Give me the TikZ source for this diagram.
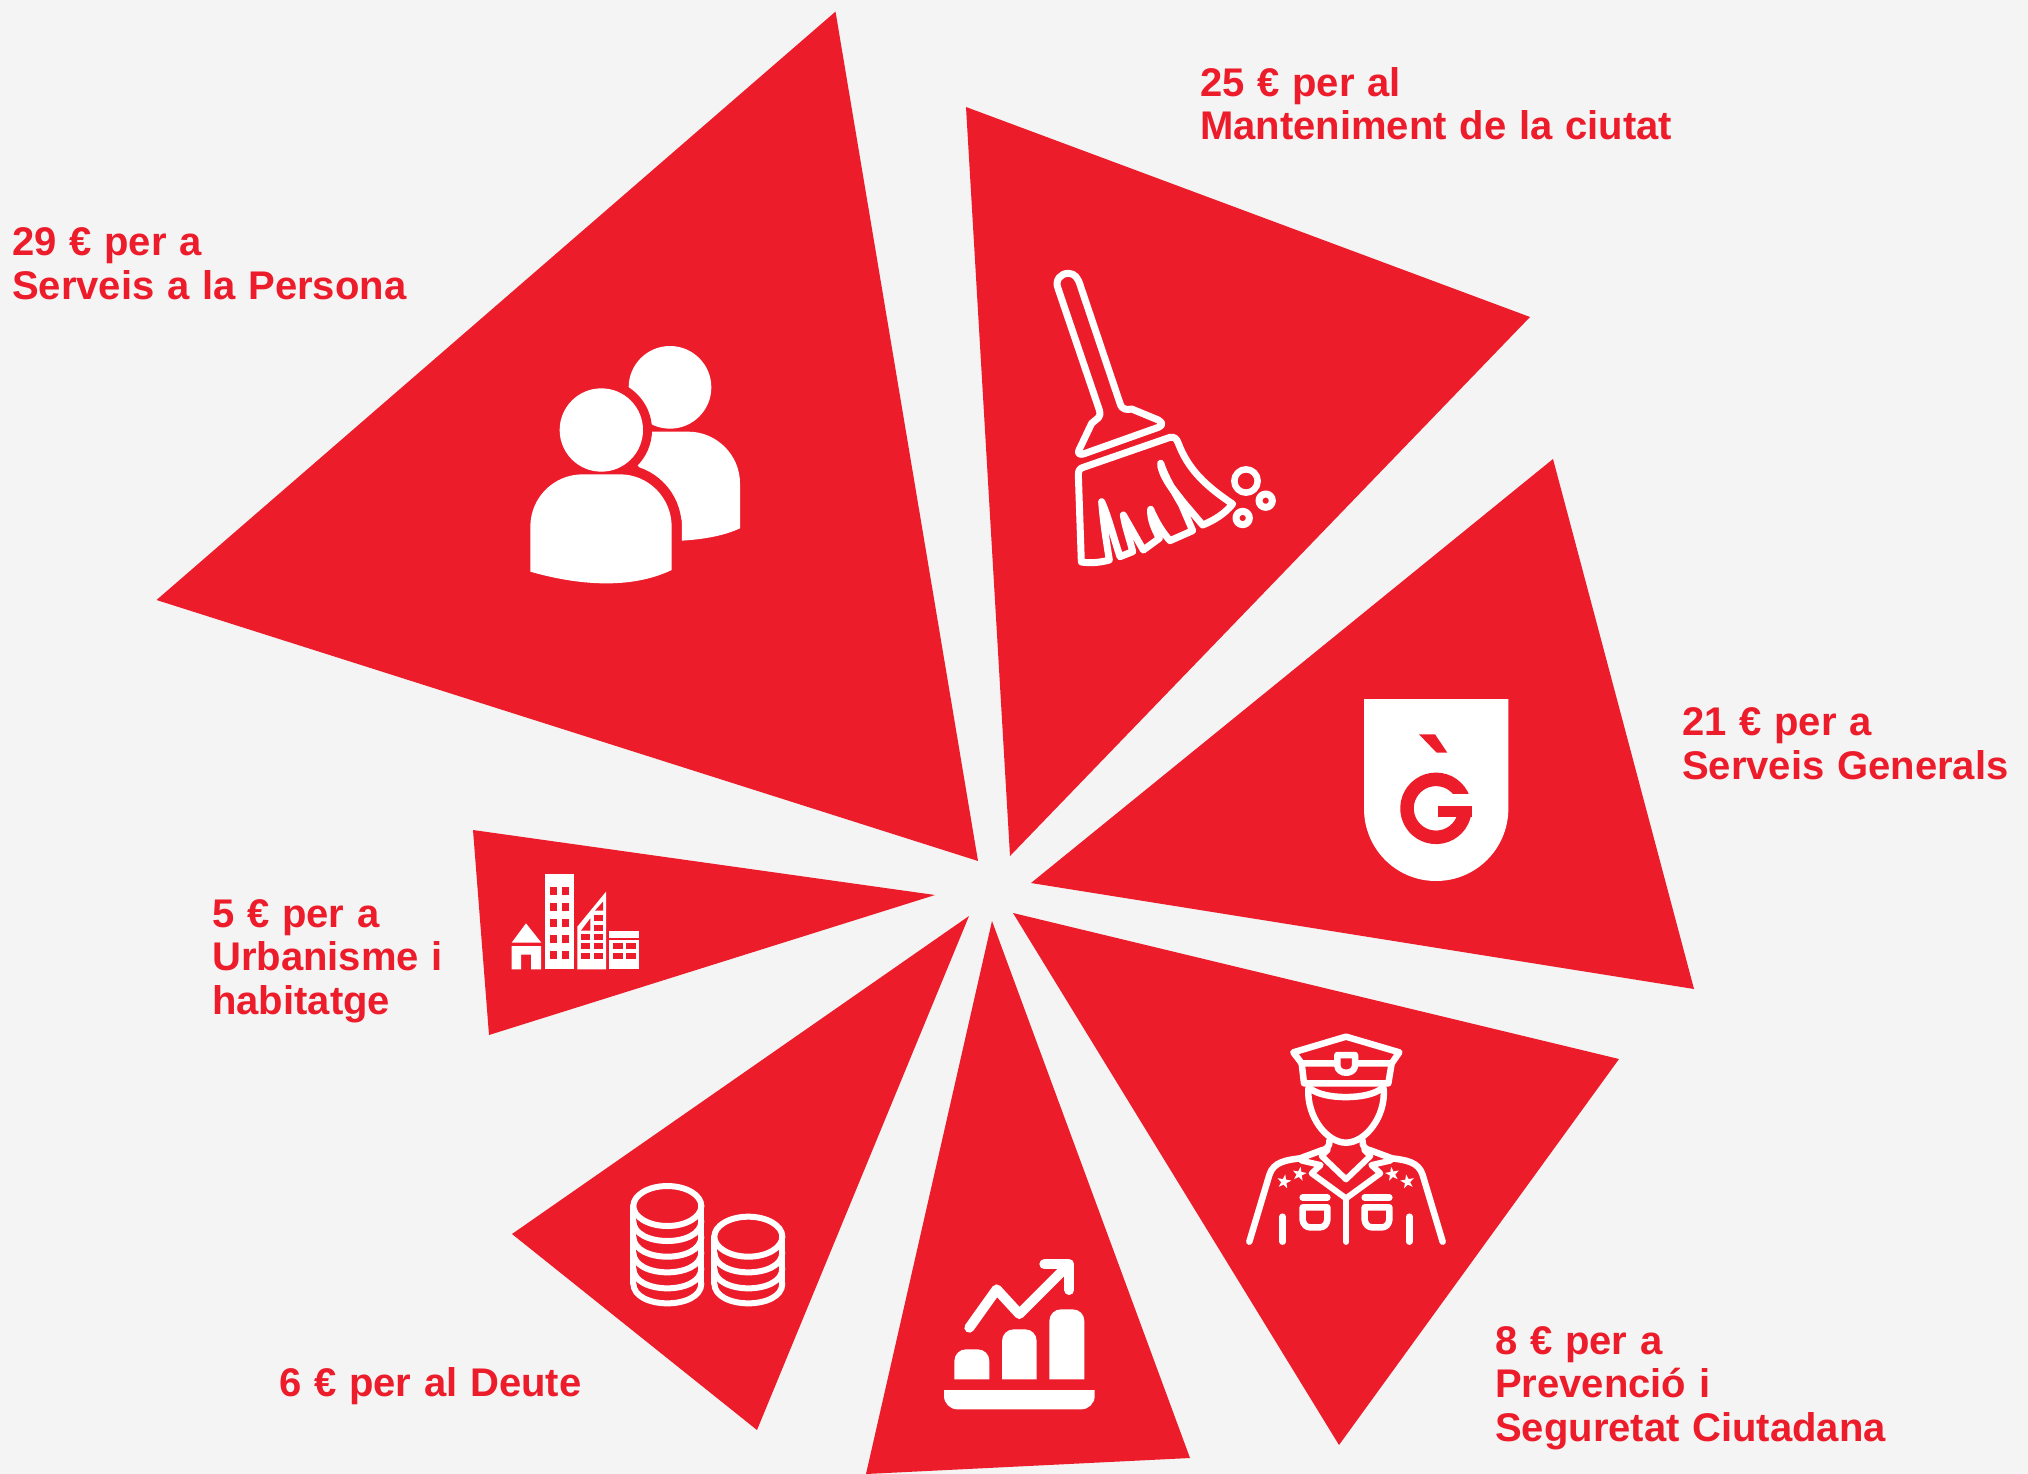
\documentclass[tikz,border=0pt]{standalone}
\usepackage{fontspec}
\setmainfont[WordSpace=1.15]{Liberation Sans}
\definecolor{barred}{HTML}{ED1C2B}
\definecolor{pagebg}{HTML}{F4F4F4}
\tikzset{
  wedge/.style={fill=barred},
  lbl/.style={anchor=base west,inner sep=0pt,align=left,text=barred,font=\fontsize{40}{43.5}\selectfont\bfseries},
  iconline/.style={draw=white,line width=#1,line cap=round,line join=round,fill=none},
  zoomed/.style={scale=1/3}
}
\newcommand\zcoin[3]{\draw[iconline=6pt] (#1-#2,#3) .. controls (#1-#2,#3+80) and (#1+#2,#3+80) .. (#1+#2,#3);}
\newcommand\zstar[3]{\fill[white,shift={(#1,#2)},rotate=#3] (0,-22)--(5,-7)--(21,-7)--(8,3)--(13,18)--(0,9)--(-13,18)--(-8,3)--(-21,-7)--(-5,-7)--cycle;}
\begin{document}
\begin{tikzpicture}[x=1pt,y=-1pt]
\useasboundingbox (0,0) rectangle (2028,1474);
\fill[pagebg] (0,0) rectangle (2028,1474);
% wedges
\fill[wedge] (835.5,11.6)--(156.5,600)--(978,861)--cycle;
\fill[wedge] (966,107)--(1530,317)--(1010,856)--cycle;
\fill[wedge] (1553,459)--(1694,989)--(1031,883)--cycle;
\fill[wedge] (1013,913)--(1619,1059)--(1339,1445)--cycle;
\fill[wedge] (992,921)--(1190,1458)--(866,1474)--cycle;
\fill[wedge] (969,916)--(757,1430)--(512,1234)--cycle;
\fill[wedge] (935,895)--(489,1035)--(473,830)--cycle;
% labels
\node[lbl] (persona) at (12,299) {29 € per a\\Serveis a la Persona};
\node[lbl] (ciutat) at (1200,140) {25 € per al\\Manteniment de la ciutat};
\node[lbl] (generals) at (1682,779) {21 € per a\\Serveis Generals};
\node[lbl] (urbanisme) at (212,1014) {5 € per a\\Urbanisme i\\habitatge};
\node[lbl] (deute) at (279,1396) {6 € per al Deute};
\node[lbl] (seguretat) at (1495,1441) {8 € per a\\Prevenció i\\Seguretat Ciutadana};
% people
\begin{scope}[shift={(500,320)},zoomed]
\fill[white] (510,202) circle [radius=124];
\fill[white] (400,335)--(565,335) .. controls (650,335) and (720,405) .. (720,490)--(720,625) .. controls (670,648) and (610,658) .. (545,662)--(545,600)--(400,420)--cycle;
\fill[barred] (304,330) circle [radius=152];
\filldraw[barred,line width=20pt] (91,755)--(91,620) .. controls (91,533) and (161,463) .. (248,463)--(360,463) .. controls (445,463) and (515,533) .. (515,620)--(515,750)--cycle;
\fill[white] (304,330) circle [radius=125];
\fill[white] (91,755)--(91,620) .. controls (91,533) and (161,463) .. (248,463)--(360,463) .. controls (445,463) and (515,533) .. (515,620)--(515,750) .. controls (390,810) and (230,795) .. (91,755)--cycle;
\end{scope}
% broom
\begin{scope}[shift={(1040,260)},zoomed]
\draw[iconline=7pt] (54,85) .. controls (44,60) and (62,40) .. (85,40) .. controls (105,40) and (115,55) .. (122,80)--(240,430) .. controls (245,450) and (262,450) .. (275,447)--(355,480) .. controls (370,490) and (368,495) .. (355,502)--(130,582) .. controls (118,586) and (112,578) .. (117,570)--(155,490) .. controls (170,475) and (185,475) .. (178,450)--cycle;
\draw[iconline=7pt] (115,645) .. controls (115,630) and (120,625) .. (130,622)--(390,532) .. controls (402,530) and (410,535) .. (415,550) .. controls (445,630) and (500,680) .. (578,732) .. controls (555,760) and (525,780) .. (488,795)--(420,715) .. controls (395,680) and (365,650) .. (362,610) .. controls (375,650) and (405,700) .. (425,735)--(458,812)--(390,842) .. controls (370,820) and (350,790) .. (332,748) .. controls (330,780) and (345,810) .. (358,835)--(310,870)--(250,765) .. controls (255,800) and (270,840) .. (278,875)--(240,890) .. controls (220,830) and (205,770) .. (185,725) .. controls (190,790) and (200,850) .. (208,900) .. controls (180,908) and (150,910) .. (124,906)--cycle;
\fill[white] (352,620) .. controls (365,670) and (400,710) .. (430,745)--(488,800)--(430,710) .. controls (405,680) and (380,650) .. (372,608)--cycle;
\draw[iconline=6.5pt] (618,663) circle [radius=35];
\draw[iconline=7pt] (677,722) circle [radius=20];
\draw[iconline=7pt] (608,774) circle [radius=20];
\end{scope}
% shield
\begin{scope}[shift={(1340,680)},zoomed]
\fill[white] (72,57)--(505,57)--(505,386) .. controls (505,506) and (408,603) .. (288,603) .. controls (168,603) and (72,506) .. (72,386)--cycle;
\fill[barred] (237,163)--(285,163)--(322,218)--(290,218)--cycle;
\draw[barred,line width=13.5pt] plot[smooth,samples=40,domain=20:360,variable=\t] ({288+87*cos(\t)},{385-87*sin(\t)});
\fill[white] (295,342) rectangle (410,378);
\fill[barred] (295,378)--(395,378)--(395,412)--(295,412)--cycle;
\end{scope}
% officer
\begin{scope}[shift={(1230,1020)},zoomed]
\draw[iconline=6.5pt] (190,97)--(348,50)--(508,97)--(485,130)--(215,130)--cycle;
\draw[iconline=6.5pt] (215,130)--(222,190)--(475,190)--(485,130);
\draw[iconline=6.5pt] (240,205) .. controls (280,240) and (415,240) .. (455,205);
\draw[iconline=6.5pt,fill=barred] (322,105)--(375,105)--(375,138) .. controls (372,165) and (325,165) .. (322,138)--cycle;
\draw[iconline=6.5pt] (235,205) .. controls (230,290) and (290,368) .. (348,368) .. controls (406,368) and (468,290) .. (461,205);
\draw[iconline=6.5pt] (298,362) .. controls (300,378) and (292,388) .. (272,392)--(210,415) .. controls (170,420) and (130,425) .. (118,465)--(58,665);
\draw[iconline=6.5pt] (398,362) .. controls (396,378) and (404,388) .. (424,392)--(486,415) .. controls (526,420) and (566,425) .. (578,465)--(638,665);
\draw[iconline=6pt] (293,390)--(275,408)--(348,478)--(421,408)--(403,390);
\draw[iconline=6pt] (215,422)--(272,435)--(245,460)--(348,535)--(451,460)--(424,435)--(481,422);
\draw[iconline=6.5pt] (348,535)--(348,665);
\draw[iconline=6.5pt] (218,533)--(292,533);
\draw[iconline=6.5pt] (404,533)--(478,533);
\draw[iconline=6.5pt] (218,562)--(292,562)--(292,600) .. controls (290,615) and (280,622) .. (270,622)--(240,622) .. controls (230,622) and (220,615) .. (218,600)--cycle;
\draw[iconline=6.5pt] (404,562)--(478,562)--(478,600) .. controls (476,615) and (466,622) .. (456,622)--(426,622) .. controls (416,622) and (406,615) .. (404,600)--cycle;
\draw[iconline=6.5pt] (158,590)--(158,665);
\draw[iconline=6.5pt] (538,590)--(538,665);
\zstar{162}{485}{-10}
\zstar{208}{462}{-10}
\zstar{487}{462}{10}
\zstar{532}{485}{10}
\end{scope}
% chart
\begin{scope}[shift={(930,1240)},zoomed]
\fill[white] (73,418)--(73,363) .. controls (73,343) and (89,328) .. (108,328)--(143,328) .. controls (163,328) and (178,343) .. (178,363)--(178,418)--cycle;
\fill[white] (216,418)--(216,303) .. controls (216,283) and (232,268) .. (251,268)--(285,268) .. controls (305,268) and (320,283) .. (320,303)--(320,418)--cycle;
\fill[white] (358,418)--(358,243) .. controls (358,223) and (374,208) .. (393,208)--(428,208) .. controls (448,208) and (463,223) .. (463,243)--(463,418)--cycle;
\fill[white] (42,450)--(494,450)--(494,468) .. controls (494,490) and (476,508) .. (454,508)--(82,508) .. controls (60,508) and (42,490) .. (42,468)--cycle;
\draw[iconline=10pt] (118,263)--(200,148)--(268,222)--(415,75);
\draw[iconline=10pt] (343,73)--(418,73)--(418,150);
\end{scope}
% coins
\begin{scope}[shift={(620,1170)},zoomed]
\draw[iconline=6pt] (142,108) ellipse [x radius=102,y radius=60];
\draw[iconline=6pt] (40,108)--(40,340);
\draw[iconline=6pt] (244,108)--(244,340);
\zcoin{142}{102}{153}
\zcoin{142}{102}{200}
\zcoin{142}{102}{247}
\zcoin{142}{102}{295}
\zcoin{142}{102}{340}
\draw[iconline=6pt] (385,200) ellipse [x radius=102,y radius=60];
\draw[iconline=6pt] (283,200)--(283,340);
\draw[iconline=6pt] (487,200)--(487,340);
\zcoin{385}{102}{247}
\zcoin{385}{102}{295}
\zcoin{385}{102}{340}
\end{scope}
% buildings
\begin{scope}[shift={(500,860)},zoomed]
\fill[white] (35,248)--(78,190)--(124,248)--cycle;
\fill[white] (35,258)--(123,258)--(123,328)--(93,328)--(93,284)--(63,284)--(63,328)--(35,328)--cycle;
\fill[white] (135,43) rectangle (221,328);
\foreach \r in {82,130,178,226,274}{
  \fill[barred] (150,\r) rectangle (170,\r+22);
  \fill[barred] (186,\r) rectangle (207,\r+22);
}
\fill[white] (232,200)--(318,95)--(318,328)--(232,328)--cycle;
\foreach \r in {222,250,278}{
  \fill[barred] (243,\r) rectangle (271,\r+18);
  \fill[barred] (281,\r) rectangle (309,\r+18);
}
\fill[barred] (281,194) rectangle (309,212);
\fill[barred] (281,165) rectangle (309,184);
\fill[barred] (285,152)--(309,125)--(309,152)--cycle;
\fill[barred] (243,212)--(271,175)--(271,212)--cycle;
\fill[white] (327,213) rectangle (416,233);
\fill[white] (327,240) rectangle (416,328);
\foreach \r in {250,278}{
  \fill[barred] (339,\r) rectangle (368,\r+18);
  \fill[barred] (378,\r) rectangle (407,\r+18);
}
\end{scope}
\end{tikzpicture}
\end{document}
